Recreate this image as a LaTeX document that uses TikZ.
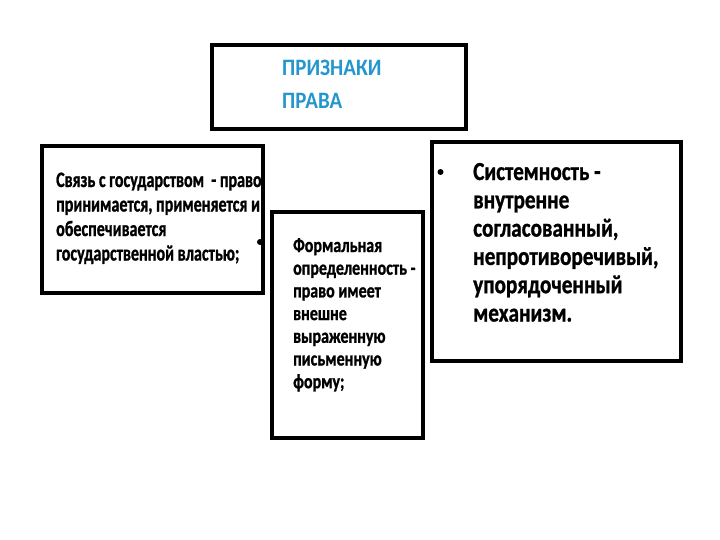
\documentclass[tikz,border=0pt]{standalone}
\usepackage{fontspec}
\setmainfont{Carlito}
\newfontfamily\ftitle[FakeStretch=0.89]{Carlito}
\newfontfamily\fleft[FakeStretch=0.73,FakeBold=1]{Carlito}
\newfontfamily\fmid[FakeStretch=0.78,FakeBold=1]{Carlito}
\newfontfamily\fright[FakeStretch=0.815,FakeBold=1]{Carlito}
\definecolor{titleblue}{RGB}{35,150,205}
\tikzset{
  card/.style={draw=black, line width=4pt, fill=white},
  txt/.style={anchor=base west, inner sep=0pt, align=left},
}
\begin{document}
\begin{tikzpicture}[x=1pt,y=-1pt]
\useasboundingbox (0,0) rectangle (720,540);
\fill[white] (0,0) rectangle (720,540);
% title box
\draw[card] (212,45) rectangle (466,129);
\node[txt, text=titleblue, font=\ftitle\bfseries\fontsize{23.5}{33}\selectfont] (title) at (282,109) {ПРИЗНАКИ\\ПРАВА};
% left box
\draw[card] (42,146) rectangle (263,293);
\node[txt, font=\fleft\bfseries\fontsize{22}{24.5}\selectfont] (left) at (56,260.5) {Связь с государством\ \ - право\\принимается, применяется и\\обеспечивается\\государственной властью;};
% middle bullet
\fill[black] (260,242) circle (3);
% middle box
\draw[card] (272,212) rectangle (423,438);
\node[txt, font=\fmid\bfseries\fontsize{20.5}{22.7}\selectfont] (mid) at (293,388.2) {Формальная\\определенность -\\право имеет\\внешне\\выраженную\\письменную\\форму;};
% right box
\draw[card] (432,142) rectangle (681,361);
\fill[black] (440.5,172) circle (3);
\node[txt, font=\fright\bfseries\fontsize{26}{28.3}\selectfont] (right) at (473,321.5) {Системность -\\внутренне\\согласованный,\\непротиворечивый,\\упорядоченный\\механизм.};
\end{tikzpicture}
\end{document}
